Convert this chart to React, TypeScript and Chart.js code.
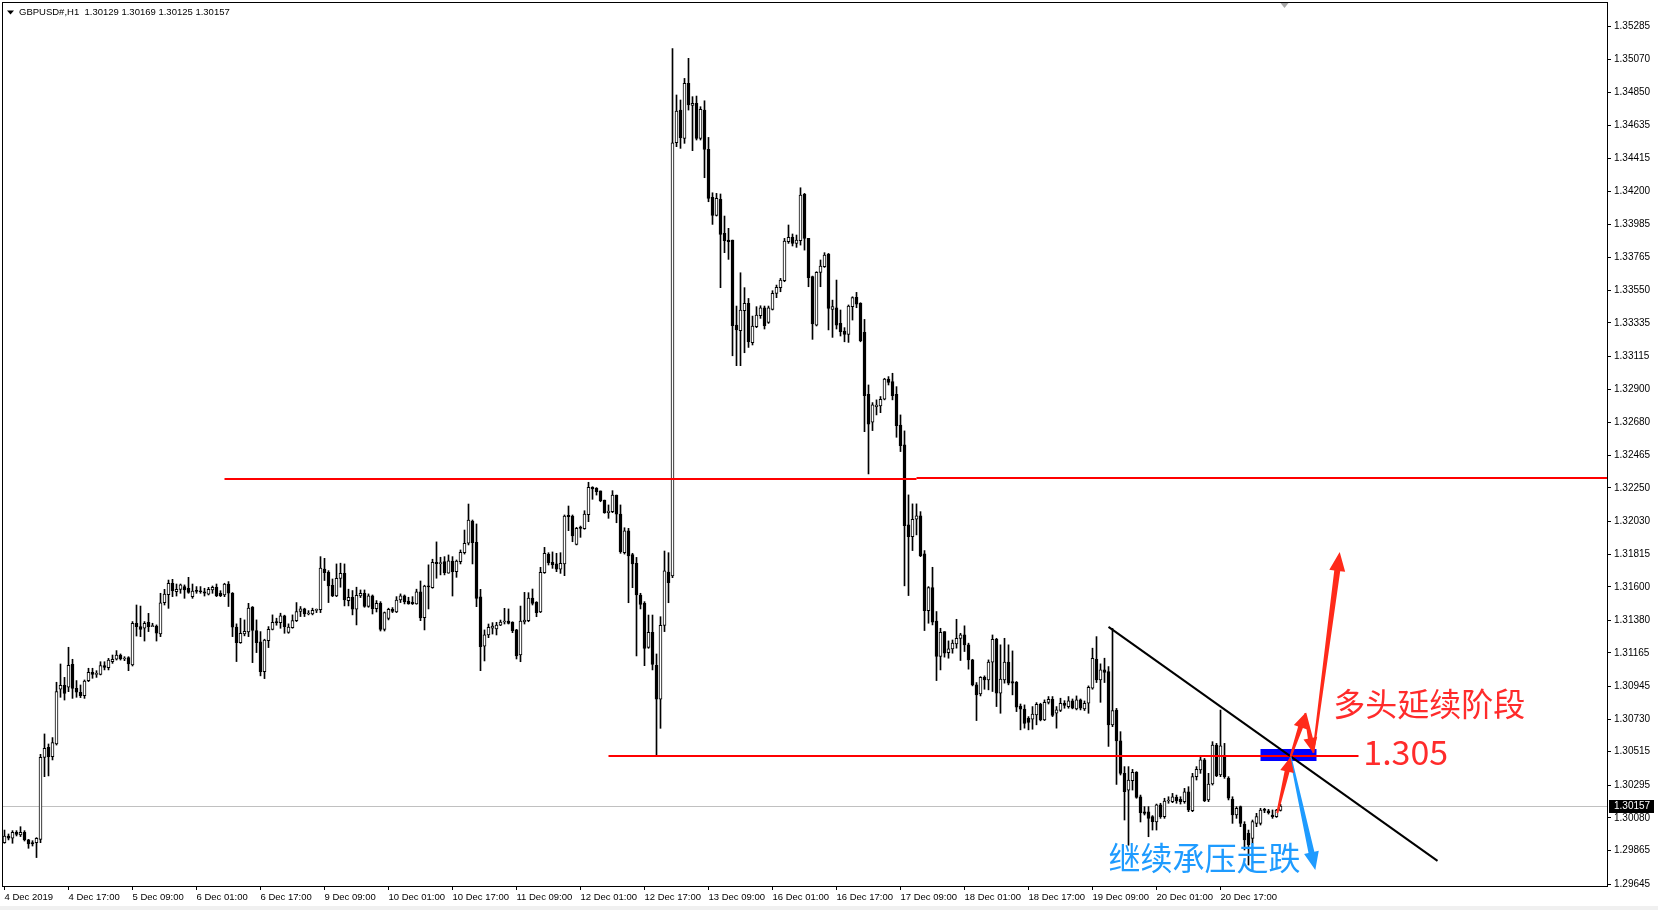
import React, { useEffect, useRef } from 'react';
import { Chart, registerables } from 'chart.js';

Chart.register(...registerables);

// ---------- data ----------
const SYMBOL_TITLE = 'GBPUSD#,H1  1.30129 1.30169 1.30125 1.30157';

const X_LABELS = [
  '4 Dec 2019', '4 Dec 17:00', '5 Dec 09:00', '6 Dec 01:00', '6 Dec 17:00',
  '9 Dec 09:00', '10 Dec 01:00', '10 Dec 17:00', '11 Dec 09:00', '12 Dec 01:00',
  '12 Dec 17:00', '13 Dec 09:00', '16 Dec 01:00', '16 Dec 17:00', '17 Dec 09:00',
  '18 Dec 01:00', '18 Dec 17:00', '19 Dec 09:00', '20 Dec 01:00', '20 Dec 17:00',
];
const BARS_PER_LABEL = 16;

const Y_TICKS = [
  1.35285, 1.35070, 1.34850, 1.34635, 1.34415, 1.34200, 1.33985, 1.33765, 1.33550,
  1.33335, 1.33115, 1.32900, 1.32680, 1.32465, 1.32250, 1.32030, 1.31815, 1.31600,
  1.31380, 1.31165, 1.30945, 1.30730, 1.30515, 1.30295, 1.30080, 1.29865, 1.29645,
];
const Y_MIN = 1.29632;
const Y_MAX = 1.35439;

const OPEN = [
  1.29917,1.29961,1.29946,1.29985,1.29968,1.29985,1.29935,1.29917,1.29917,1.29939,
  1.30478,1.30544,1.30483,1.30566,1.30926,1.30952,1.30939,1.31090,1.30932,1.30906,
  1.30884,1.30983,1.31037,1.31024,1.31024,1.31081,1.31068,1.31107,1.31123,1.31151,
  1.31125,1.31134,1.31086,1.31360,1.31338,1.31327,1.31366,1.31338,1.31342,1.31289,
  1.31495,1.31548,1.31623,1.31568,1.31583,1.31601,1.31590,1.31535,1.31572,1.31570,
  1.31567,1.31552,1.31579,1.31596,1.31557,1.31546,1.31618,1.31557,1.31334,1.31233,
  1.31290,1.31303,1.31467,1.31312,1.31237,1.31042,1.31246,1.31320,1.31371,1.31364,
  1.31408,1.31299,1.31331,1.31377,1.31437,1.31454,1.31421,1.31421,1.31445,1.31450,
  1.31717,1.31695,1.31610,1.31540,1.31654,1.31689,1.31509,1.31531,1.31452,1.31540,
  1.31557,1.31470,1.31540,1.31456,1.31491,1.31320,1.31391,1.31452,1.31434,1.31513,
  1.31540,1.31505,1.31498,1.31487,1.31566,1.31397,1.31605,1.31594,1.31761,1.31752,
  1.31765,1.31689,1.31769,1.31699,1.31765,1.31824,1.31886,1.32032,1.31892,1.31533,
  1.31210,1.31283,1.31327,1.31322,1.31348,1.31368,1.31375,1.31366,1.31316,1.31151,
  1.31368,1.31377,1.31526,1.31498,1.31434,1.31693,1.31815,1.31760,1.31750,1.31715,
  1.31750,1.32070,1.32065,1.31879,1.31993,1.31982,1.32074,1.32254,1.32247,1.32230,
  1.32170,1.32087,1.32094,1.32203,1.32078,1.31824,1.31967,1.31811,1.31754,1.31546,
  1.31491,1.31201,1.31300,1.31083,1.30860,1.31346,1.31697,1.31671,1.34520,1.34735,
  1.34549,1.34910,1.34766,1.34779,1.34549,1.34735,1.34476,1.34161,1.34042,1.34148,
  1.33924,1.33880,1.33880,1.33321,1.33284,1.33415,1.33464,1.33205,1.33310,1.33382,
  1.33435,1.33339,1.33424,1.33529,1.33567,1.33613,1.33869,1.33898,1.33858,1.33876,
  1.34180,1.33891,1.33639,1.33321,1.33667,1.33705,1.33788,1.33424,1.33435,1.33332,
  1.33282,1.33260,1.33442,1.33503,1.33464,1.33273,1.32866,1.32682,1.32785,1.32789,
  1.32833,1.32965,1.32949,1.32866,1.32664,1.32533,1.32007,1.31930,1.32044,1.32066,
  1.31816,1.31443,1.31595,1.31375,1.31141,1.31305,1.31167,1.31191,1.31224,1.31261,
  1.31283,1.31218,1.31119,1.30955,1.30896,1.31005,1.30988,1.31104,1.31255,1.30900,
  1.30988,1.31104,1.30977,1.30972,1.30816,1.30795,1.30735,1.30729,1.30757,1.30827,
  1.30724,1.30840,1.30860,1.30768,1.30786,1.30834,1.30812,1.30849,1.30797,1.30856,
  1.30797,1.30834,1.30933,1.31123,1.30988,1.31053,1.31042,1.30692,1.30789,1.30586,
  1.30373,1.30263,1.30325,1.30380,1.30219,1.30119,1.30119,1.30088,1.30053,1.30165,
  1.30088,1.30191,1.30187,1.30215,1.30202,1.30187,1.30252,1.30127,1.30351,1.30395,
  1.30461,1.30198,1.30303,1.30559,1.30362,1.30482,1.30340,1.30202,1.30099,1.30154,
  1.30037,1.29978,1.29945,1.30044,1.30044,1.30132,1.30127,1.30099,1.30088,1.30129,
];

const HIGH = [
  1.30000,1.29974,1.29996,1.29996,1.30022,1.29996,1.29939,1.29930,1.29950,1.30498,
  1.30632,1.30566,1.30608,1.30972,1.31092,1.31004,1.31202,1.31123,1.30983,1.30954,
  1.30987,1.31064,1.31064,1.31048,1.31107,1.31107,1.31129,1.31151,1.31180,1.31158,
  1.31140,1.31140,1.31371,1.31480,1.31473,1.31371,1.31425,1.31360,1.31349,1.31557,
  1.31583,1.31644,1.31649,1.31618,1.31618,1.31612,1.31662,1.31618,1.31601,1.31601,
  1.31590,1.31596,1.31605,1.31618,1.31574,1.31623,1.31634,1.31562,1.31356,1.31393,
  1.31382,1.31491,1.31470,1.31382,1.31305,1.31255,1.31338,1.31415,1.31393,1.31426,
  1.31413,1.31356,1.31415,1.31496,1.31470,1.31459,1.31443,1.31459,1.31454,1.31798,
  1.31787,1.31706,1.31651,1.31750,1.31755,1.31750,1.31584,1.31575,1.31597,1.31579,
  1.31579,1.31553,1.31546,1.31509,1.31502,1.31434,1.31459,1.31463,1.31535,1.31553,
  1.31546,1.31531,1.31535,1.31584,1.31638,1.31610,1.31744,1.31781,1.31895,1.31794,
  1.31798,1.31809,1.31798,1.31776,1.31842,1.31973,1.32144,1.32039,1.32013,1.31583,
  1.31316,1.31355,1.31364,1.31366,1.31381,1.31458,1.31454,1.31370,1.31320,1.31473,
  1.31563,1.31561,1.31585,1.31502,1.31728,1.31859,1.31824,1.31829,1.31820,1.31824,
  1.32072,1.32131,1.32072,1.31991,1.31999,1.32100,1.32287,1.32258,1.32252,1.32230,
  1.32170,1.32138,1.32232,1.32203,1.32138,1.31988,1.31984,1.31820,1.31793,1.31557,
  1.31502,1.31414,1.31414,1.31158,1.31403,1.31835,1.31824,1.35140,1.34834,1.34801,
  1.34943,1.35075,1.34823,1.34827,1.34757,1.34796,1.34555,1.34191,1.34187,1.34183,
  1.34038,1.33957,1.33880,1.33446,1.33665,1.33567,1.33496,1.33380,1.33442,1.33448,
  1.33446,1.33446,1.33547,1.33584,1.33628,1.33891,1.33979,1.33920,1.33913,1.34224,
  1.34187,1.33891,1.33643,1.33672,1.33749,1.33797,1.33792,1.33485,1.33617,1.33420,
  1.33304,1.33453,1.33507,1.33536,1.33468,1.33358,1.32927,1.32811,1.32829,1.32851,
  1.32971,1.32982,1.33004,1.32916,1.32730,1.32625,1.32204,1.32145,1.32145,1.32094,
  1.31838,1.31601,1.31728,1.31437,1.31327,1.31305,1.31244,1.31250,1.31386,1.31294,
  1.31343,1.31229,1.31123,1.30970,1.31009,1.31014,1.31119,1.31283,1.31261,1.31218,
  1.31261,1.31218,1.31178,1.30977,1.30829,1.30823,1.30746,1.30812,1.30838,1.30834,
  1.30856,1.30878,1.30878,1.30812,1.30867,1.30851,1.30878,1.30862,1.30882,1.30862,
  1.30849,1.30948,1.31196,1.31272,1.31093,1.31130,1.31075,1.31326,1.30800,1.30647,
  1.30417,1.30417,1.30399,1.30384,1.30230,1.30154,1.30154,1.30095,1.30171,1.30176,
  1.30209,1.30219,1.30241,1.30230,1.30219,1.30274,1.30285,1.30373,1.30417,1.30482,
  1.30471,1.30373,1.30581,1.30570,1.30789,1.30570,1.30351,1.30219,1.30154,1.30158,
  1.30055,1.30000,1.30066,1.30110,1.30143,1.30143,1.30136,1.30132,1.30136,1.30169,
];

const LOW = [
  1.29913,1.29935,1.29913,1.29961,1.29957,1.29928,1.29880,1.29895,1.29819,1.29917,
  1.30351,1.30356,1.30461,1.30559,1.30873,1.30855,1.30910,1.30866,1.30873,1.30871,
  1.30866,1.30976,1.30998,1.31004,1.31020,1.31053,1.31053,1.31096,1.31118,1.31118,
  1.31114,1.31048,1.31079,1.31276,1.31272,1.31243,1.31305,1.31338,1.31243,1.31272,
  1.31480,1.31458,1.31535,1.31539,1.31557,1.31524,1.31557,1.31524,1.31557,1.31557,
  1.31539,1.31546,1.31557,1.31535,1.31535,1.31535,1.31470,1.31272,1.31108,1.31228,
  1.31277,1.31272,1.31101,1.31167,1.31014,1.30996,1.31200,1.31316,1.31347,1.31327,
  1.31294,1.31294,1.31327,1.31371,1.31404,1.31404,1.31415,1.31415,1.31430,1.31430,
  1.31641,1.31496,1.31535,1.31535,1.31597,1.31474,1.31474,1.31415,1.31349,1.31529,
  1.31465,1.31465,1.31421,1.31434,1.31309,1.31309,1.31382,1.31430,1.31430,1.31496,
  1.31487,1.31485,1.31483,1.31485,1.31377,1.31316,1.31454,1.31590,1.31656,1.31678,
  1.31678,1.31689,1.31539,1.31662,1.31750,1.31815,1.31875,1.31750,1.31469,1.31048,
  1.31112,1.31265,1.31289,1.31283,1.31344,1.31355,1.31355,1.31298,1.31125,1.31107,
  1.31355,1.31370,1.31480,1.31403,1.31430,1.31688,1.31743,1.31721,1.31699,1.31688,
  1.31673,1.31969,1.31896,1.31875,1.31925,1.31978,1.32028,1.32175,1.32203,1.32159,
  1.32083,1.32050,1.32087,1.32021,1.31820,1.31815,1.31495,1.31594,1.31145,1.31454,
  1.31081,1.31195,1.31053,1.30494,1.30669,1.31305,1.31495,1.31660,1.34494,1.34483,
  1.34516,1.34735,1.34468,1.34538,1.34538,1.34290,1.34132,1.33983,1.34038,1.33567,
  1.33797,1.33753,1.33119,1.33054,1.33054,1.33139,1.33174,1.33190,1.33304,1.33365,
  1.33295,1.33332,1.33420,1.33501,1.33540,1.33606,1.33858,1.33841,1.33832,1.33847,
  1.33814,1.33573,1.33227,1.33315,1.33573,1.33700,1.33289,1.33240,1.33295,1.33249,
  1.33211,1.33207,1.33354,1.33435,1.33211,1.32620,1.32342,1.32627,1.32730,1.32745,
  1.32829,1.32927,1.32829,1.32583,1.32489,1.31606,1.31542,1.31838,1.31941,1.31798,
  1.31312,1.31360,1.31349,1.30983,1.31053,1.31137,1.31130,1.31163,1.31196,1.31115,
  1.31174,1.31058,1.30948,1.30720,1.30882,1.30926,1.30922,1.30911,1.30812,1.30768,
  1.30966,1.30955,1.30889,1.30779,1.30659,1.30670,1.30659,1.30663,1.30692,1.30718,
  1.30720,1.30829,1.30746,1.30670,1.30779,1.30801,1.30801,1.30797,1.30790,1.30790,
  1.30786,1.30768,1.30926,1.30970,1.30840,1.30970,1.30550,1.30680,1.30300,1.30362,
  1.30066,1.29900,1.30263,1.30209,1.30053,1.30099,1.29956,1.30000,1.30000,1.30077,
  1.30077,1.30176,1.30180,1.30176,1.30171,1.30176,1.30121,1.30121,1.30329,1.30373,
  1.30187,1.30187,1.30296,1.30351,1.30351,1.30340,1.30198,1.30044,1.30077,1.30022,
  1.29869,1.29770,1.29913,1.30022,1.30033,1.30114,1.30105,1.30077,1.30083,1.30125,
];

const CLOSE = [
  1.29961,1.29946,1.29985,1.29972,1.29985,1.29935,1.29908,1.29908,1.29946,1.30478,
  1.30538,1.30483,1.30575,1.30910,1.30952,1.30899,1.31083,1.30932,1.30906,1.30884,
  1.30980,1.31037,1.31024,1.31029,1.31081,1.31070,1.31118,1.31123,1.31151,1.31125,
  1.31129,1.31092,1.31360,1.31338,1.31320,1.31360,1.31338,1.31342,1.31294,1.31495,
  1.31552,1.31623,1.31574,1.31583,1.31612,1.31579,1.31563,1.31572,1.31570,1.31567,
  1.31557,1.31583,1.31596,1.31541,1.31541,1.31618,1.31557,1.31334,1.31233,1.31294,
  1.31307,1.31459,1.31312,1.31233,1.31042,1.31250,1.31320,1.31366,1.31362,1.31408,
  1.31338,1.31334,1.31377,1.31437,1.31454,1.31421,1.31426,1.31445,1.31450,1.31722,
  1.31693,1.31605,1.31540,1.31656,1.31689,1.31513,1.31531,1.31452,1.31544,1.31557,
  1.31470,1.31540,1.31456,1.31491,1.31320,1.31430,1.31452,1.31437,1.31513,1.31540,
  1.31502,1.31487,1.31489,1.31566,1.31395,1.31605,1.31599,1.31761,1.31752,1.31755,
  1.31693,1.31770,1.31699,1.31769,1.31826,1.31886,1.32039,1.31890,1.31524,1.31206,
  1.31283,1.31333,1.31342,1.31348,1.31368,1.31370,1.31359,1.31311,1.31145,1.31375,
  1.31381,1.31526,1.31491,1.31430,1.31695,1.31820,1.31758,1.31743,1.31715,1.31754,
  1.32065,1.32061,1.31934,1.31984,1.31984,1.32078,1.32254,1.32243,1.32225,1.32166,
  1.32087,1.32098,1.32203,1.32078,1.31831,1.31967,1.31802,1.31750,1.31546,1.31484,
  1.31195,1.31300,1.31090,1.30860,1.31346,1.31704,1.31627,1.34520,1.34728,1.34553,
  1.34910,1.34768,1.34779,1.34549,1.34739,1.34476,1.34154,1.34042,1.34154,1.33917,
  1.33876,1.33869,1.33317,1.33289,1.33420,1.33464,1.33211,1.33315,1.33387,1.33435,
  1.33317,1.33435,1.33529,1.33569,1.33617,1.33873,1.33898,1.33858,1.33880,1.34176,
  1.33891,1.33632,1.33328,1.33667,1.33709,1.33781,1.33431,1.33442,1.33321,1.33277,
  1.33260,1.33446,1.33501,1.33459,1.33218,1.32857,1.32669,1.32796,1.32794,1.32833,
  1.32965,1.32943,1.32857,1.32660,1.32528,1.32002,1.31930,1.32044,1.32066,1.31805,
  1.31443,1.31595,1.31367,1.31141,1.31301,1.31163,1.31191,1.31229,1.31261,1.31283,
  1.31218,1.31119,1.30955,1.30889,1.31005,1.30988,1.31104,1.31255,1.30900,1.30992,
  1.31104,1.30966,1.30966,1.30808,1.30795,1.30702,1.30707,1.30762,1.30827,1.30724,
  1.30840,1.30860,1.30753,1.30790,1.30834,1.30819,1.30849,1.30801,1.30856,1.30801,
  1.30834,1.30939,1.31130,1.30988,1.31053,1.31036,1.30692,1.30786,1.30586,1.30373,
  1.30252,1.30329,1.30380,1.30215,1.30114,1.30110,1.30077,1.30055,1.30165,1.30088,
  1.30191,1.30195,1.30219,1.30193,1.30187,1.30252,1.30132,1.30351,1.30399,1.30461,
  1.30193,1.30303,1.30559,1.30358,1.30553,1.30351,1.30209,1.30099,1.30143,1.30044,
  1.29935,1.29902,1.30055,1.30088,1.30132,1.30129,1.30114,1.30088,1.30132,1.30157,
];

// ---------- drawn objects (in bar index / price coordinates) ----------
const HORIZONTAL_LINES = [
  { from: 55, to: 228, price: 1.32309 },
  { from: 228, to: 401, price: 1.32318 },
  { from: 151, to: 338.5, price: 1.30488 },
];
const TREND_LINE = { x1: 276, p1: 1.31336, x2: 358.25, p2: 1.29797 };
const ZONE = { x1: 314, x2: 328, top: 1.30533, bottom: 1.30454 };
const RED_ARROWS = [
  { x1: 318.2, p1: 1.30112, x2: 321.5, p2: 1.30481 },
  { x1: 321.5, p1: 1.30481, x2: 325.2, p2: 1.30770 },
  { x1: 325.2, p1: 1.30770, x2: 327.2, p2: 1.30507 },
  { x1: 327.2, p1: 1.30507, x2: 333.8, p2: 1.31829 },
];
const BLUE_ARROW = { x1: 321.5, p1: 1.30481, x2: 327.7, p2: 1.29738 };
const NOTES = [
  { text: '多头延续阶段', x: 332.2, price: 1.30829, color: '#ff2b2b', size: 32 },
  { text: '1.305', x: 339.7, price: 1.30515, color: '#ff2b2b', size: 34 },
  { text: '继续承压走跌', x: 276, price: 1.29816, color: '#1e9bff', size: 32 },
];

const LATIN = '"Liberation Sans", Arial, sans-serif';
const CJK = '"Noto Sans CJK SC", "Noto Sans", sans-serif';

function drawArrow(ctx: CanvasRenderingContext2D, x1: number, y1: number, x2: number, y2: number,
  color: string, tailW: number, baseW: number, headW: number, headL: number) {
  const dx = x2 - x1, dy = y2 - y1;
  const len = Math.hypot(dx, dy);
  if (len < 1) return;
  const ux = dx / len, uy = dy / len;
  const nx = -uy, ny = ux;
  const hl = Math.min(headL, len * 0.6);
  const bx = x2 - ux * hl, by = y2 - uy * hl;
  ctx.beginPath();
  ctx.moveTo(x1 + nx * tailW, y1 + ny * tailW);
  ctx.lineTo(bx + nx * baseW, by + ny * baseW);
  ctx.lineTo(bx + nx * headW, by + ny * headW);
  ctx.lineTo(x2, y2);
  ctx.lineTo(bx - nx * headW, by - ny * headW);
  ctx.lineTo(bx - nx * baseW, by - ny * baseW);
  ctx.lineTo(x1 - nx * tailW, y1 - ny * tailW);
  ctx.closePath();
  ctx.fillStyle = color;
  ctx.fill();
}

export default function App() {
  const ref = useRef<HTMLCanvasElement>(null);

  useEffect(() => {
    document.body.style.margin = '0';
    const canvas = ref.current;
    if (!canvas) return;

    const bodies = OPEN.map((o, i) => ({ x: i, y: [o, CLOSE[i]] }));
    const wicks = LOW.map((l, i) => ({ x: i, y: [l, HIGH[i]] }));
    const bodyColors = OPEN.map((o, i) => (CLOSE[i] >= o ? '#ffffff' : '#000000'));
    const lastClose = CLOSE[CLOSE.length - 1];

    const overlay = {
      id: 'mt4overlay',
      beforeDraw(chart: any) {
        const { ctx, width, height } = chart;
        ctx.save();
        ctx.fillStyle = '#ffffff';
        ctx.fillRect(0, 0, width, height);
        ctx.fillStyle = '#f0f0f0';
        ctx.fillRect(0, height - 4, width, 4);
        ctx.restore();
      },
      beforeDatasetsDraw(chart: any) {
        const { ctx, chartArea, scales } = chart;
        const y = Math.round(scales.y.getPixelForValue(lastClose)) + 0.5;
        ctx.save();
        ctx.strokeStyle = '#c0c0c0';
        ctx.lineWidth = 1;
        ctx.beginPath();
        ctx.moveTo(chartArea.left, y);
        ctx.lineTo(chartArea.right, y);
        ctx.stroke();
        ctx.restore();
      },
      afterDatasetsDraw(chart: any) {
        const { ctx, chartArea, scales } = chart;
        const X = (v: number) => scales.x.getPixelForValue(v);
        const Y = (v: number) => scales.y.getPixelForValue(v);
        ctx.save();
        ctx.beginPath();
        ctx.rect(chartArea.left, chartArea.top, chartArea.right - chartArea.left, chartArea.bottom - chartArea.top);
        ctx.clip();

        // blue zone
        ctx.fillStyle = '#0000ff';
        ctx.fillRect(X(ZONE.x1), Y(ZONE.top), X(ZONE.x2) - X(ZONE.x1), Y(ZONE.bottom) - Y(ZONE.top));

        // horizontal red lines
        ctx.fillStyle = '#ff0000';
        HORIZONTAL_LINES.forEach((l) => {
          const y = Math.round(Y(l.price));
          const x1 = X(l.from);
          const x2 = Math.min(X(l.to), chartArea.right);
          ctx.fillRect(x1, y - 1, x2 - x1, 2);
        });

        // trend line
        ctx.strokeStyle = '#000000';
        ctx.lineWidth = 2;
        ctx.beginPath();
        ctx.moveTo(X(TREND_LINE.x1), Y(TREND_LINE.p1));
        ctx.lineTo(X(TREND_LINE.x2), Y(TREND_LINE.p2));
        ctx.stroke();

        // arrows
        drawArrow(ctx, X(BLUE_ARROW.x1), Y(BLUE_ARROW.p1), X(BLUE_ARROW.x2), Y(BLUE_ARROW.p2),
          '#1e9bff', 1, 3, 7.5, 18);
        RED_ARROWS.forEach((a, k) => {
          const big = k === RED_ARROWS.length - 1;
          drawArrow(ctx, X(a.x1), Y(a.p1), X(a.x2), Y(a.p2), '#ff2a1a',
            1, big ? 3 : 2.5, big ? 8 : 7, big ? 19 : 15);
        });

        // notes
        NOTES.forEach((n) => {
          ctx.font = `${n.size}px ${CJK}`;
          ctx.fillStyle = n.color;
          ctx.textAlign = 'left';
          ctx.textBaseline = 'middle';
          ctx.fillText(n.text, X(n.x), Y(n.price));
        });
        ctx.restore();
      },
      afterDraw(chart: any) {
        const { ctx, chartArea, scales } = chart;
        ctx.save();
        // chart frame
        ctx.strokeStyle = '#000000';
        ctx.lineWidth = 1;
        ctx.strokeRect(chartArea.left - 0.5, chartArea.top - 0.5,
          chartArea.right - chartArea.left + 1, chartArea.bottom - chartArea.top + 1);

        // current price box
        const y = Math.round(scales.y.getPixelForValue(lastClose));
        ctx.fillStyle = '#000000';
        ctx.fillRect(chartArea.right + 2, y - 6, 45, 13);
        ctx.fillStyle = '#ffffff';
        ctx.font = `10px ${LATIN}`;
        ctx.textAlign = 'left';
        ctx.textBaseline = 'middle';
        ctx.fillText(lastClose.toFixed(5), chartArea.right + 7, y + 0.5);

        // header
        ctx.fillStyle = '#000000';
        ctx.beginPath();
        ctx.moveTo(7, 10.5);
        ctx.lineTo(14, 10.5);
        ctx.lineTo(10.5, 14.5);
        ctx.closePath();
        ctx.fill();
        ctx.font = `9.5px ${LATIN}`;
        ctx.textBaseline = 'middle';
        ctx.fillText(SYMBOL_TITLE, 19, 12.5);

        // chart shift marker
        const sx = scales.x.getPixelForValue(CLOSE.length);
        ctx.fillStyle = '#a8a8a8';
        ctx.beginPath();
        ctx.moveTo(sx - 4, chartArea.top);
        ctx.lineTo(sx + 4, chartArea.top);
        ctx.lineTo(sx, chartArea.top + 5);
        ctx.closePath();
        ctx.fill();
        ctx.restore();
      },
    };

    const chart = new Chart(canvas, {
      type: 'bar',
      data: {
        datasets: [
          {
            label: 'body',
            data: bodies as any,
            backgroundColor: bodyColors,
            borderColor: '#000000',
            borderWidth: 1,
            borderSkipped: false,
            barThickness: 3,
            minBarLength: 1,
            grouped: false,
            order: 0,
          } as any,
          {
            label: 'wick',
            data: wicks as any,
            backgroundColor: '#000000',
            borderWidth: 0,
            barThickness: 1,
            grouped: false,
            order: 1,
          } as any,
        ],
      },
      options: {
        responsive: false,
        animation: false,
        devicePixelRatio: 1,
        events: [],
        layout: { padding: { left: 3, top: 3, right: 0, bottom: 0 } },
        plugins: { legend: { display: false }, tooltip: { enabled: false } },
        scales: {
          x: {
            type: 'linear',
            bounds: 'data',
            min: -0.375,
            max: 400.625,
            offset: false,
            afterBuildTicks: (s: any) => {
              s.ticks = X_LABELS.map((_, k) => ({ value: k * BARS_PER_LABEL }));
            },
            afterFit: (s: any) => {
              s.height = 24;
              s.paddingLeft = 0;
              s.paddingRight = 0;
            },
            ticks: {
              align: 'start',
              maxRotation: 0,
              minRotation: 0,
              autoSkip: false,
              padding: 2,
              color: '#000000',
              font: { family: LATIN, size: 9.5 },
              callback: (_v: any, index: number) => X_LABELS[index] ?? '',
            },
            grid: { drawOnChartArea: false, drawTicks: true, tickLength: 4, color: '#000000', offset: false },
            border: { display: true, color: '#000000' },
          } as any,
          y: {
            type: 'linear',
            position: 'right',
            bounds: 'data',
            min: Y_MIN,
            max: Y_MAX,
            afterBuildTicks: (s: any) => {
              s.ticks = Y_TICKS.map((v) => ({ value: v }));
            },
            afterFit: (s: any) => {
              s.width = 51;
              s.paddingTop = 0;
              s.paddingBottom = 0;
            },
            ticks: {
              padding: 3,
              color: '#000000',
              font: { family: LATIN, size: 10 },
              autoSkip: false,
              callback: (v: any) => Number(v).toFixed(5),
            },
            grid: { drawOnChartArea: false, drawTicks: true, tickLength: 4, color: '#000000' },
            border: { display: true, color: '#000000' },
          } as any,
        },
      },
      plugins: [overlay],
    });

    return () => chart.destroy();
  }, []);

  return (
    <div style={{ width: 1658, height: 910 }}>
      <canvas ref={ref} width={1658} height={910} style={{ display: 'block' }} />
    </div>
  );
}
